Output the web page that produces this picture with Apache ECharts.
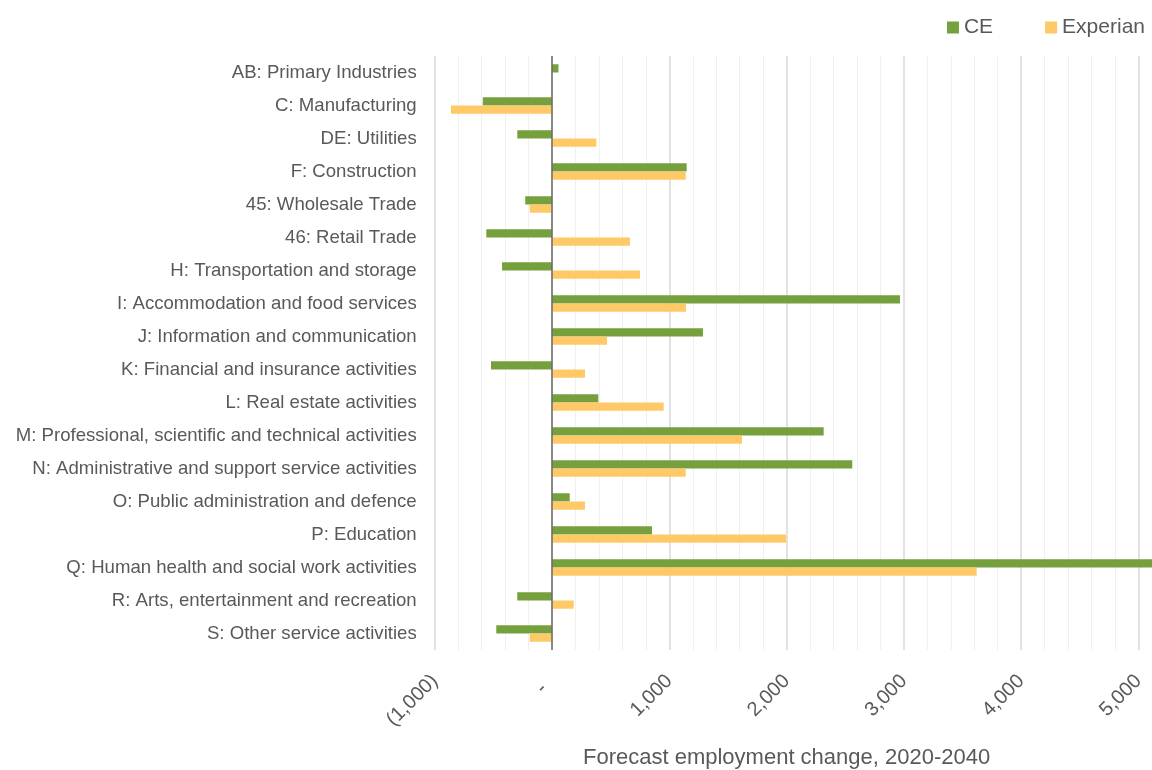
<!DOCTYPE html>
<html>
<head>
<meta charset="utf-8">
<title>Forecast employment change by sector</title>
<script src="https://cdn.jsdelivr.net/npm/echarts@6/dist/echarts.min.js"></script>
<style>
  html, body { margin: 0; padding: 0; background: #ffffff; overflow: hidden; }
  #chart { width: 1152px; height: 770px; }
</style>
</head>
<body>
<div id="chart"></div>
<script>
// Sector labels, top to bottom
const categories = [
  "AB: Primary Industries",
  "C: Manufacturing",
  "DE: Utilities",
  "F: Construction",
  "45: Wholesale Trade",
  "46: Retail Trade",
  "H: Transportation and storage",
  "I: Accommodation and food services",
  "J: Information and communication",
  "K: Financial and insurance activities",
  "L: Real estate activities",
  "M: Professional, scientific and technical activities",
  "N: Administrative and support service activities",
  "O: Public administration and defence",
  "P: Education",
  "Q: Human health and social work activities",
  "R: Arts, entertainment and recreation",
  "S: Other service activities"
];

// Forecast employment change 2020-2040, by forecaster
const ceValues = [55, -590, -296, 1148, -228, -560, -426, 2967, 1287, -520, 395, 2316, 2560, 151, 853, 5300, -296, -475];
const experianValues = [0, -861, 378, 1140, -190, 665, 750, 1142, 469, 281, 952, 1620, 1140, 281, 1995, 3620, 185, -190];

// Value axis range and ticks
const axisMin = -1000;
const axisMax = 5000;
const axisStep = 1000;

const FONT = "'Liberation Sans', Arial, sans-serif";
const TEXT = "#595959";
const GREEN = "#76a03e";
const YELLOW = "#fec966";

// Accounting-style tick labels: (1,000)  -  1,000
function tickLabel(v) {
  if (v === 0) return "-  ";
  const s = Math.abs(v).toLocaleString("en-US");
  return v < 0 ? "(" + s + ")" : s;
}

const chart = echarts.init(document.getElementById("chart"), null, { renderer: "canvas" });

chart.setOption({
  animation: false,
  backgroundColor: "#ffffff",
  textStyle: { fontFamily: FONT },
  legend: {
    right: 2,
    top: 12,
    itemWidth: 12,
    itemHeight: 12,
    itemGap: 52,
    icon: "rect",
    textStyle: { fontFamily: FONT, fontSize: 21, color: TEXT },
    data: ["CE", "Experian"]
  },
  grid: {
    left: 434.7,
    right: 13.5,
    top: 56,
    bottom: 120,
    containLabel: false,
    outerBoundsMode: "none"
  },
  xAxis: {
    type: "value",
    min: axisMin,
    max: axisMax,
    interval: axisStep,
    name: "Forecast employment change, 2020-2040",
    nameLocation: "middle",
    nameGap: 97,
    nameTextStyle: { fontFamily: FONT, fontSize: 22, color: TEXT },
    axisLine: { show: false },
    axisTick: { show: false },
    axisLabel: {
      rotate: 45,
      margin: 28,
      fontFamily: FONT,
      fontSize: 20,
      color: TEXT,
      formatter: tickLabel
    },
    splitLine: { show: true, lineStyle: { color: "#d9d9d9", width: 1.5 } },
    minorTick: { show: false, splitNumber: 5 },
    minorSplitLine: { show: true, lineStyle: { color: "#f0f0f0", width: 1 } }
  },
  yAxis: {
    type: "category",
    inverse: true,
    data: categories,
    axisLine: { show: false },
    axisTick: { show: false },
    splitLine: { show: false },
    axisLabel: {
      margin: 18,
      fontFamily: FONT,
      fontSize: 18.6,
      color: TEXT
    }
  },
  series: [
    {
      name: "CE",
      type: "bar",
      data: ceValues,
      barGap: "0%",
      barCategoryGap: "50%",
      clip: false,
      itemStyle: { color: GREEN },
      markLine: {
        silent: true,
        symbol: "none",
        label: { show: false },
        lineStyle: { color: "#6b6b6b", width: 1.5, type: "solid" },
        data: [{ xAxis: 0 }]
      }
    },
    {
      name: "Experian",
      type: "bar",
      data: experianValues,
      barGap: "0%",
      barCategoryGap: "50%",
      clip: false,
      itemStyle: { color: YELLOW }
    }
  ]
});
</script>
</body>
</html>
